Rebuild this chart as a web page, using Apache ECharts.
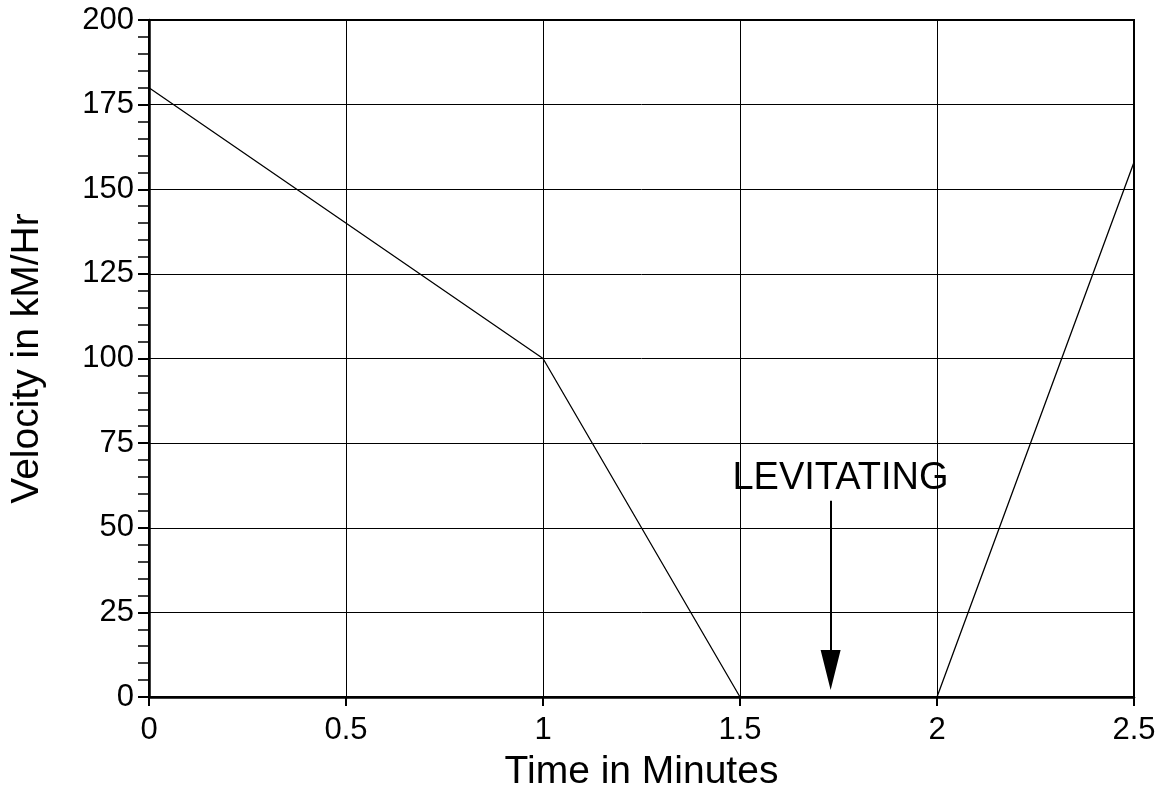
<!DOCTYPE html>
<html>
<head>
<meta charset="utf-8">
<script src="https://cdn.jsdelivr.net/npm/echarts@6/dist/echarts.min.js"></script>
<style>
html,body{margin:0;padding:0;background:#fff;}
#chart{width:1168px;height:797px;}
</style>
</head>
<body>
<div id="chart"></div>
<script>
// Data
var timeMinutes = [0, 1, 1.5, 2, 2.5];
var velocity = [180, 100, 0, 0, 158];
var xTickInterval = 0.5;
var yTickInterval = 25;
var arrowStart = [1.73, 58];
var arrowEnd = [1.73, 8];
var annotationPos = [1.755, 64.5];
var annotationText = 'LEVITATING';

var font = '"Liberation Sans", Arial, Helvetica, sans-serif';
var chart = echarts.init(document.getElementById('chart'));
var lineData = timeMinutes.map(function (t, i) { return [t, velocity[i]]; });

chart.setOption({
  animation: false,
  backgroundColor: '#fff',
  grid: {
    left: 148, top: 20, right: 34, bottom: 94,
    show: true, borderColor: '#000', borderWidth: 2
  },
  xAxis: {
    type: 'value', min: 0, max: 2.5, interval: xTickInterval,
    name: 'Time in Minutes', nameLocation: 'middle', nameGap: 56,
    nameTextStyle: { fontFamily: font, fontSize: 39, color: '#000' },
    axisLine: { show: true, onZero: false, lineStyle: { color: '#000', width: 2.5 } },
    axisTick: { show: true, inside: false, length: 9, lineStyle: { color: '#000', width: 2 } },
    axisLabel: { fontFamily: font, fontSize: 31, color: '#000', margin: 18 },
    splitLine: { show: true, lineStyle: { color: '#000', width: 1 } }
  },
  yAxis: {
    type: 'value', min: 0, max: 200, interval: yTickInterval,
    name: 'Velocity in kM/Hr', nameLocation: 'middle', nameGap: 102, nameRotate: 90,
    nameTextStyle: { fontFamily: font, fontSize: 39, color: '#000' },
    axisLine: { show: true, onZero: false, lineStyle: { color: '#000', width: 2.5 } },
    axisTick: { show: true, inside: false, length: 11, lineStyle: { color: '#000', width: 2 } },
    minorTick: { show: true, splitNumber: 5, length: 11, lineStyle: { color: '#000', width: 1.5 } },
    axisLabel: { fontFamily: font, fontSize: 31, color: '#000', margin: 15 },
    splitLine: { show: true, lineStyle: { color: '#000', width: 1 } }
  },
  series: [
    {
      type: 'line',
      data: lineData,
      symbol: 'none',
      lineStyle: { color: '#000', width: 1.3 },
      z: 3
    },
    {
      type: 'line',
      data: [],
      symbol: 'none',
      markLine: {
        silent: true,
        symbol: ['none', 'triangle'],
        symbolSize: [20, 40],
        label: { show: false },
        lineStyle: { color: '#000', width: 2, type: 'solid' },
        data: [[{ coord: arrowStart }, { coord: arrowEnd }]]
      },
      markPoint: {
        silent: true,
        symbol: 'rect',
        symbolSize: 0,
        data: [{ coord: annotationPos, value: annotationText }],
        label: {
          show: true, position: 'inside', formatter: annotationText,
          fontFamily: font, fontSize: 38, color: '#000'
        }
      }
    }
  ]
});
</script>
</body>
</html>
